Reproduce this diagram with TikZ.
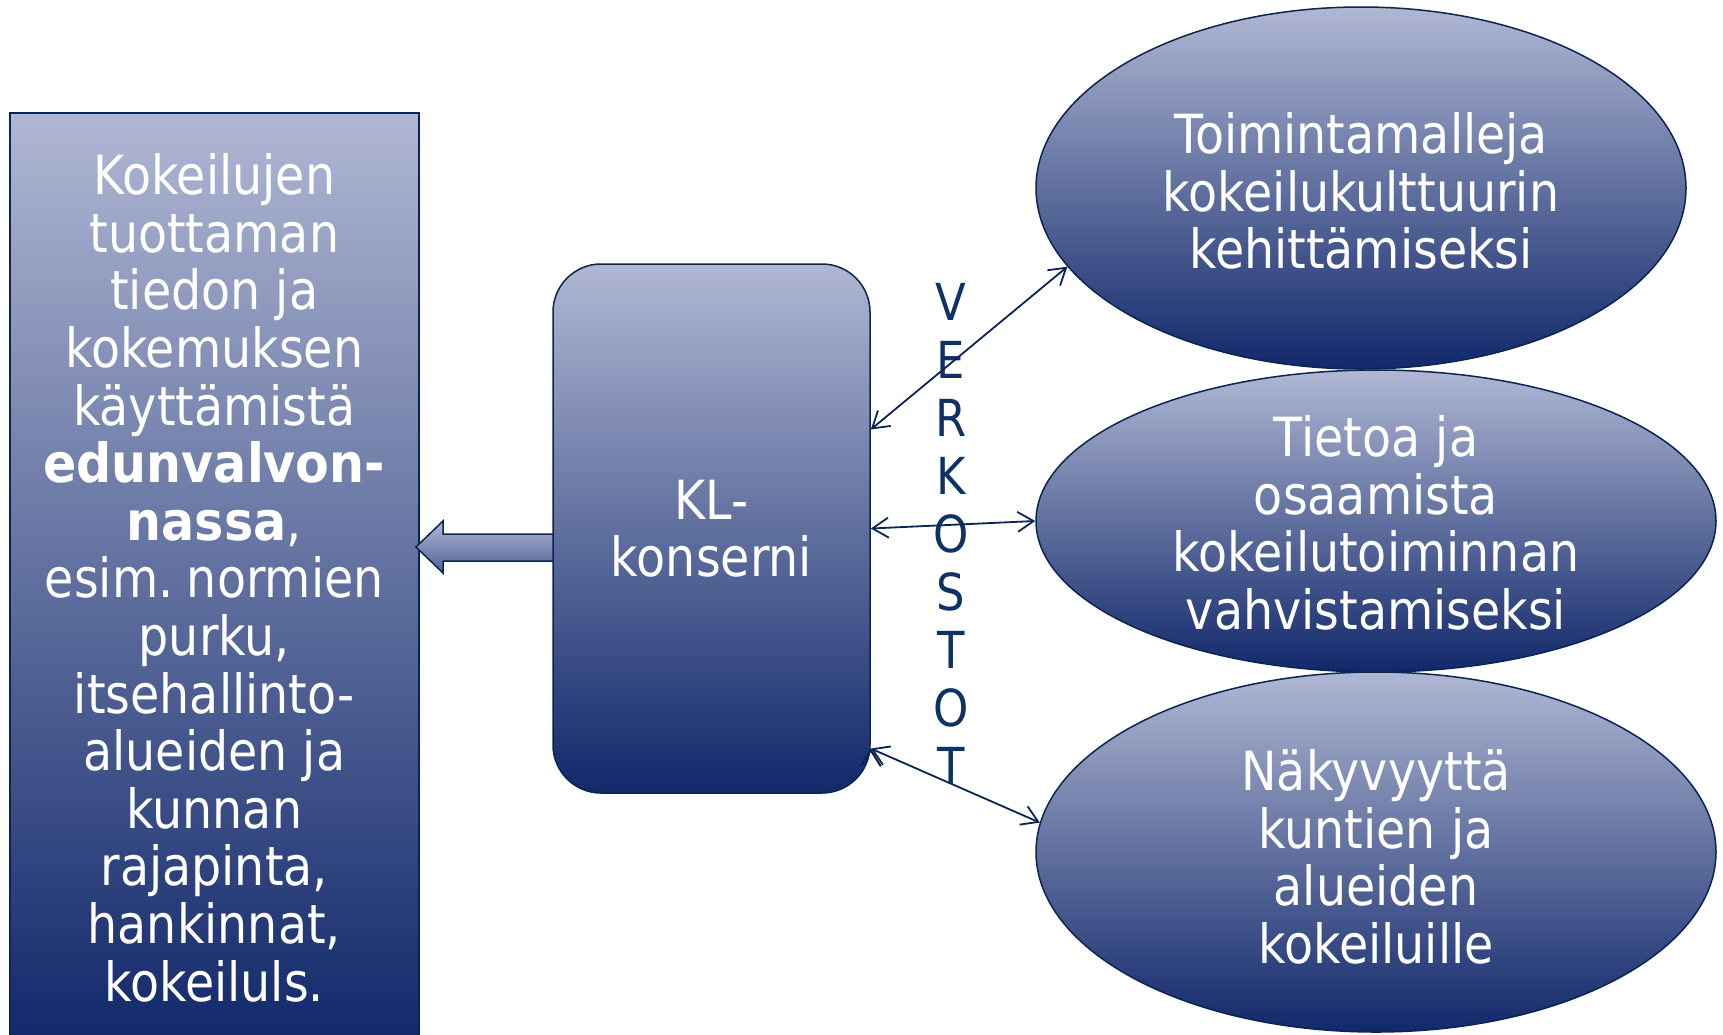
\documentclass[tikz,border=0pt]{standalone}
\usepackage{fontspec}
\setmainfont{DejaVu Sans}[FakeStretch=0.88,BoldFeatures={FakeStretch=0.91}]
\usetikzlibrary{arrows.meta,shapes.geometric,positioning}
\definecolor{palelilac}{RGB}{175,183,211}
\definecolor{deepnavy}{RGB}{17,40,106}
\definecolor{inkblue}{RGB}{10,36,84}
\definecolor{letterblue}{RGB}{14,50,102}

\begin{document}
\begin{tikzpicture}[x=1pt,y=-1pt,>={Straight Barb[length=16pt,width=20pt]},
  gradfill/.style={draw=inkblue,line width=1.5pt,top color=palelilac,bottom color=deepnavy},
  panel/.style={gradfill,rectangle,inner sep=0pt},
  oval/.style={gradfill,ellipse,inner sep=0pt},
  whitetxt/.style={text=white,align=center,font=\fontsize{54}{57.6}\selectfont},
  link/.style={draw=inkblue,line width=1.8pt}]
\clip (0,0) rectangle (1723,1034);

% vasen laatikko
\node[panel,whitetxt,minimum width=409,minimum height=930,anchor=north west] (edun) at (9,112)
  {Kokeilujen\\tuottaman\\tiedon ja\\kokemuksen\\käyttämistä\\\textbf{edunvalvon-}\\\textbf{nassa},\\esim.\hspace{0.25em}normien\\purku,\\itsehallinto-\\alueiden ja\\kunnan\\rajapinta,\\hankinnat,\\kokeiluls.};

% paksu nuoli
\coordinate (tip) at (416,547);
\draw[draw=inkblue,line width=1.5pt,top color=palelilac,bottom color=palelilac!40!deepnavy]
  (tip) -- (443,521) -- (443,534) -- (555,534) -- (555,561) -- (443,561) -- (443,573) -- cycle;

\node[panel,whitetxt,rounded corners=48,minimum width=317,minimum height=529] (kl) at (711.5,528.5) {KL-\\konserni};

% soikiot
\node[oval,minimum width=650,minimum height=362] (malli) at (1361,188) {};
\node[whitetxt] (mallitxt) at ([yshift=-3pt]malli) {Toimintamalleja\\kokeilukulttuurin\\kehittämiseksi};
\node[oval,minimum width=680,minimum height=302] (tieto) at (1376,521) {};
\node[whitetxt] (tietotxt) at ([yshift=-2pt]tieto) {Tietoa ja\\osaamista\\kokeilutoiminnan\\vahvistamiseksi};
\node[oval,minimum width=680,minimum height=360] (nakyvyys) at (1376,852) {};
\node[whitetxt] (nakyvyystxt) at ([yshift=-5pt]nakyvyys) {Näkyvyyttä\\kuntien ja\\alueiden\\kokeiluille};

\node[text=letterblue,align=center,font=\fontsize{51}{58}\selectfont] (verkostot) at (951,534) {V\\E\\R\\K\\O\\S\\T\\O\\T};

\path[<->,link] ([yshift=99pt]kl.east) edge (malli.195)
  (kl.east) edge (tieto.west)
  ([yshift=-220pt]kl.east) edge (nakyvyys.175);
\end{tikzpicture}
\end{document}
